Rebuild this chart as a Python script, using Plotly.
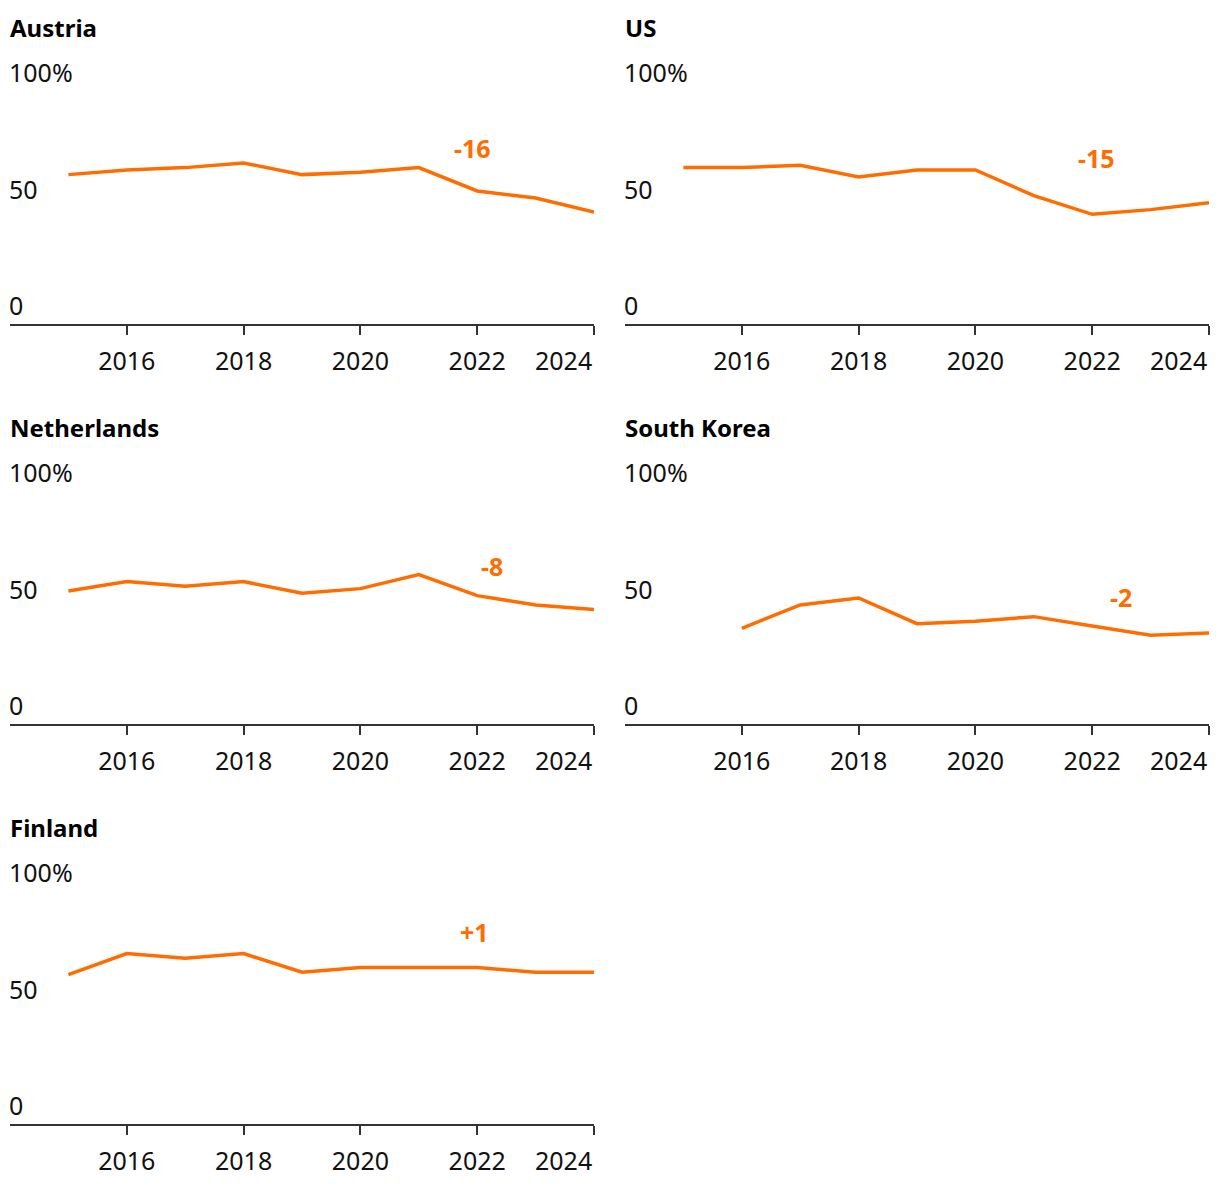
import plotly.graph_objects as go

years = [2015, 2016, 2017, 2018, 2019, 2020, 2021, 2022, 2023, 2024]
countries = ["Austria", "US", "Netherlands", "South Korea", "Finland"]
austria = [64, 66, 67, 69, 64, 65, 67, 57, 54, 48]
us = [67, 67, 68, 63, 66, 66, 55, 47, 49, 52]
netherlands = [57, 61, 59, 61, 56, 58, 64, 55, 51, 49]
south_korea = [None, 41, 51, 54, 43, 44, 46, 42, 38, 39]
finland = [64, 73, 71, 73, 65, 67, 67, 67, 65, 65]
changes = ["-16", "-15", "-8", "-2", "+1"]
change_x = [2021.92, 2022.07, 2022.25, 2022.5, 2021.95]
change_y = [75.5, 71.2, 67.5, 54.5, 82.2]
x_tickvals = [2016, 2018, 2020, 2022, 2024]
x_ticktext = ["2016", "2018", "2020", "2022", ""]
y_tickvals = [0, 50, 100]
y_ticktext = ["0", "50", "100%"]

series = [austria, us, netherlands, south_korea, finland]

W, H = 1220, 1190
ORANGE = "#ff6d00"
FONT = "Noto Sans"
FS = 25
PX_PER_UNIT = 2.334
YMAX = 115

fig = go.Figure()
annotations = []
layout = {}

for i, (name, vals) in enumerate(zip(countries, series)):
    row, col = divmod(i, 2)
    x0 = 10 + 615 * col
    x1 = x0 + 584
    ybot = 324 + 400 * row
    ytop = ybot - YMAX * PX_PER_UNIT
    n = i + 1
    xa = "xaxis" if n == 1 else f"xaxis{n}"
    ya = "yaxis" if n == 1 else f"yaxis{n}"
    xr = "x" if n == 1 else f"x{n}"
    yr = "y" if n == 1 else f"y{n}"
    fig.add_trace(go.Scatter(
        x=years, y=vals, mode="lines", xaxis=xr, yaxis=yr,
        line=dict(color=ORANGE, width=3.5), connectgaps=False,
        showlegend=False, hoverinfo="skip"))
    layout[xa] = dict(
        domain=[x0 / W, x1 / W], anchor=yr, range=[2014, 2024],
        tickvals=x_tickvals, ticktext=x_ticktext,
        showline=True, linecolor="#333333", linewidth=2,
        ticks="outside", ticklen=9, tickwidth=2, tickcolor="#333333",
        showgrid=False, zeroline=False, ticklabelstandoff=5,
        tickfont=dict(family=FONT, size=FS, color="#111111"),
        fixedrange=True)
    layout[ya] = dict(
        domain=[1 - ybot / H, 1 - ytop / H], anchor=xr, range=[0, YMAX],
        tickvals=y_tickvals, ticktext=y_ticktext,
        ticklabelposition="inside top", ticks="", ticklabelstandoff=-4,
        ticklabeloverflow="allow",
        showline=False, showgrid=False, zeroline=False,
        tickfont=dict(family=FONT, size=FS, color="#111111"),
        fixedrange=True)
    annotations.append(dict(
        text=f"<b>{name}</b>", xref="paper", yref="paper",
        x=(x0 - 2) / W, y=1 - (27 + 400 * row) / H, xanchor="left", yanchor="middle",
        showarrow=False, font=dict(family=FONT, size=FS - 1, color="#000000")))
    annotations.append(dict(
        text=f"<b>{changes[i]}</b>", xref=xr, yref=yr,
        x=change_x[i], y=change_y[i], xanchor="center", yanchor="middle",
        showarrow=False, font=dict(family=FONT, size=FS, color=ORANGE)))
    annotations.append(dict(
        text="2024", xref=xr, yref="paper",
        x=2024, y=1 - (ybot + 20) / H, xanchor="right", yanchor="top",
        yshift=3, showarrow=False,
        font=dict(family=FONT, size=FS, color="#111111")))

fig.update_layout(
    width=W, height=H, margin=dict(l=0, r=0, t=0, b=0),
    paper_bgcolor="white", plot_bgcolor="white",
    annotations=annotations, **layout)

fig.write_html("out.html")
